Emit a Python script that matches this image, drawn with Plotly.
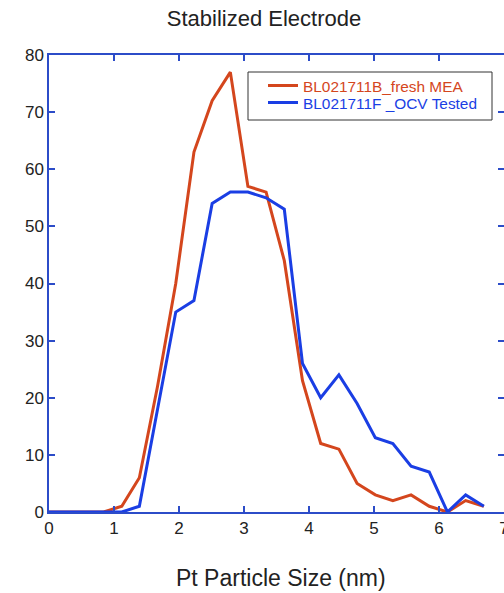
import plotly.graph_objects as go

# Data
size_nm = [0.0, 0.28, 0.56, 0.84, 1.12, 1.39, 1.67, 1.95, 2.23, 2.51, 2.79, 3.06, 3.34,
           3.62, 3.90, 4.18, 4.46, 4.74, 5.02, 5.29, 5.57, 5.85, 6.13, 6.41, 6.69]
fresh_mea = [0, 0, 0, 0, 1, 6, 22, 40, 63, 72, 77, 57, 56, 44, 23, 12, 11, 5, 3, 2, 3, 1, 0, 2, 1]
ocv_tested = [0, 0, 0, 0, 0, 1, 18, 35, 37, 54, 56, 56, 55, 53, 26, 20, 24, 19, 13, 12, 8, 7, 0, 3, 1]

series_names = ["BL021711B_fresh MEA", "BL021711F _OCV Tested"]
series_colors = ["#d4461d", "#1a3ee4"]
x_ticks = [0, 1, 2, 3, 4, 5, 6, 7]
y_ticks = [0, 10, 20, 30, 40, 50, 60, 70, 80]

AXIS_COLOR = "#2c4cc8"
FONT = "Liberation Sans, Arial, Helvetica, sans-serif"

W, H = 504, 593
ml, mr, mt, mb = 49, 0, 55, 81
PW, PH = W - ml - mr, H - mt - mb


def px_x(px):
    return (px - ml) / PW


def px_y(py):
    return (H - mb - py) / PH


fig = go.Figure()
legend_ids = ["legend", "legend2"]
for name, ys, col, lg in zip(series_names, [fresh_mea, ocv_tested], series_colors, legend_ids):
    fig.add_trace(go.Scatter(
        x=size_nm, y=ys, mode="lines",
        name=f"<span style='color:{col}'>{name}</span>",
        line=dict(color=col, width=3),
        legend=lg,
    ))

# empty helper trace so the right-side tick axis is drawn
fig.add_trace(go.Scatter(x=[], y=[], yaxis="y2", showlegend=False, hoverinfo="skip"))

legend_common = dict(xanchor="left", yanchor="top", borderwidth=0,
                     bgcolor="rgba(0,0,0,0)", font=dict(size=15.4))

fig.update_layout(
    width=W, height=H,
    margin=dict(l=ml, r=mr, t=mt, b=mb, pad=0, autoexpand=False),
    paper_bgcolor="white", plot_bgcolor="white",
    font=dict(family=FONT, color="#222222"),
    title=dict(text="Stabilized Electrode", x=264 / W, xanchor="center",
               y=1 - 18 / H, yanchor="middle", yref="container",
               font=dict(size=22, color="#222222")),
    showlegend=True,
    legend=dict(x=px_x(263), y=px_y(69), **legend_common),
    legend2=dict(x=px_x(263), y=px_y(86), **legend_common),
    shapes=[dict(type="rect", xref="paper", yref="paper",
                 x0=px_x(248), x1=px_x(492), y0=px_y(120), y1=px_y(72),
                 line=dict(color="#333333", width=1), fillcolor="white", layer="above")],
    xaxis=dict(range=[0, 7], tickvals=x_ticks, ticktext=[str(v) for v in x_ticks],
               showgrid=False, zeroline=False, automargin=False,
               showline=True, linecolor=AXIS_COLOR, linewidth=1.5,
               ticks="inside", ticklen=6, tickwidth=1.5, tickcolor=AXIS_COLOR,
               mirror="ticks", ticklabeloverflow="allow",
               tickfont=dict(size=17, color="#222222")),
    yaxis=dict(range=[0, 80], tickvals=y_ticks, showgrid=False, zeroline=False,
               automargin=False,
               showline=True, linecolor=AXIS_COLOR, linewidth=1.5,
               ticks="inside", ticklen=6, tickwidth=1.5, tickcolor=AXIS_COLOR,
               tickfont=dict(size=17, color="#222222")),
    yaxis2=dict(range=[0, 80], tickvals=y_ticks, overlaying="y", side="right",
                showgrid=False, zeroline=False, showline=False, automargin=False,
                ticks="inside", ticklen=6, tickwidth=1.5, tickcolor=AXIS_COLOR,
                showticklabels=False),
    annotations=[dict(text="Pt Particle Size (nm)", xref="paper", yref="paper",
                      x=px_x(281), y=px_y(578),
                      xanchor="center", yanchor="middle", showarrow=False,
                      font=dict(size=23, color="#222222"))],
)

fig.write_html("out.html")
